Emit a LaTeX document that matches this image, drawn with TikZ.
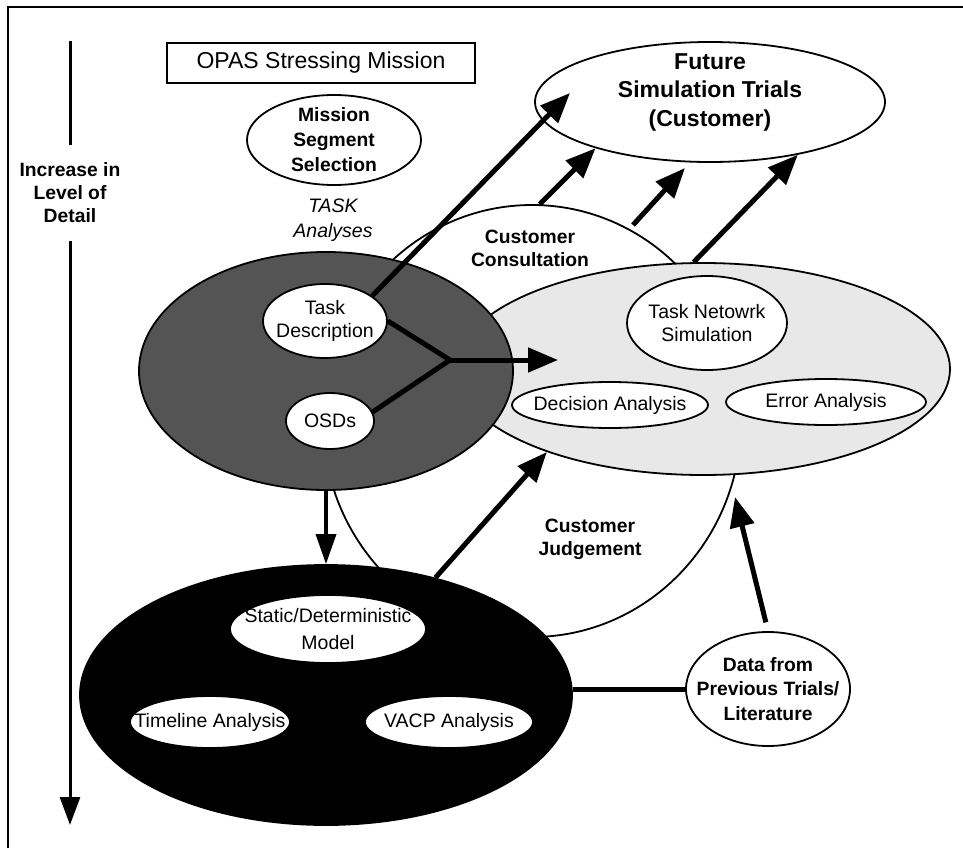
\documentclass[tikz,border=0pt]{standalone}
\usepackage{fontspec}
\setmainfont{Liberation Sans}
\usetikzlibrary{shapes.geometric}
\usetikzlibrary{arrows.meta}
\usetikzlibrary{calc}
\definecolor{task-grey}{gray}{0.33}
\definecolor{sim-grey}{gray}{0.91}

\begin{document}
\begin{tikzpicture}[x=1pt, y=-1pt,
  blob/.style={ellipse, draw=black, line width=1.8pt, fill=white, inner sep=-40pt,
    align=center, font=\fontsize{19.5}{23}\selectfont},
  bold-txt/.style={align=center, font=\fontsize{19.3}{23}\selectfont\bfseries},
  fat/.style={line width=5pt, -{Triangle[length=30pt,width=24pt]}}]
\useasboundingbox (0,0) rectangle (963,848);
\draw[line width=2pt] (8,848) -- (8,7) -- (963,7);

\node[blob, minimum width=418pt, minimum height=432pt] (cust) at (532,421) {};
\node[blob, fill=sim-grey, minimum width=494pt, minimum height=212pt] (sim) at (703,369) {};
\node[blob, fill=task-grey, minimum width=374pt, minimum height=238pt] (analyses) at (326,371) {};
\node[blob, fill=black, minimum width=492pt, minimum height=260pt] (model) at (326,695) {};

\node[blob, minimum width=124pt, minimum height=74pt] (taskdesc) at (325,321) {Task\\Description};
\node[blob, minimum width=88pt, minimum height=56pt] (osds) at (330,421) {OSDs};
\node[blob, minimum width=160pt, minimum height=94pt] (tasknet) at (707,323) {Task Netowrk\\Simulation};
\node[blob, minimum width=196pt, minimum height=46pt] (decision) at (610,405) {Decision Analysis};
\node[blob, minimum width=200pt, minimum height=46pt] (error) at (826,402) {Error Analysis};
\node[blob, minimum width=196pt, minimum height=68pt, font=\fontsize{19.5}{27}\selectfont] (static) at (328,629) {Static/Deterministic\\Model};
\node[blob, minimum width=160pt, minimum height=52pt] (timeline) at (210,722) {Timeline Analysis};
\node[blob, minimum width=168pt, minimum height=52pt] (vacp) at (449,722) {VACP Analysis};

\node[blob, bold-txt, minimum width=174pt, minimum height=90pt, font=\fontsize{19.3}{25}\selectfont\bfseries] (mission) at (334,140) {Mission\\Segment\\Selection};
\node[blob, minimum width=350pt, minimum height=120pt] (future) at (710,102) {};
\node[bold-txt, font=\fontsize{23}{28.5}\selectfont\bfseries] (futuretxt) at (710,92) {Future\\Simulation Trials\\(Customer)};
\node[blob, bold-txt, minimum width=164pt, minimum height=114pt, font=\fontsize{19.3}{24.5}\selectfont\bfseries] (data) at (768,689) {Data from\\Previous Trials/\\Literature};
\node[draw, line width=1.8pt, minimum width=308pt, minimum height=40pt, inner sep=0pt, font=\fontsize{23}{27}\selectfont] (opas) at (321,63) {OPAS Stressing Mission};

\node[bold-txt] (consult) at (530,248) {Customer\\Consultation};
\node[bold-txt] (judge) at (590,539) {Customer\\Judgement};
\node[align=center, font=\fontsize{19.5}{25}\selectfont\itshape] (taskan) at (333,220) {TASK\\Analyses};
\node[bold-txt, inner ysep=18pt] (lvl) at (70,193) {Increase in\\Level of\\Detail};

\coordinate (lvltop) at (70,41);
\coordinate (lvlend) at (70,825);
\coordinate (ft1) at (570,93);
\coordinate (ft3s) at (633,225);
\coordinate (ft3) at (685,168);
\coordinate (join) at (450,360);
\coordinate (simin) at (558,360);
\coordinate (judgein) at (735,497);

\draw[line width=3pt] (lvltop) -- (lvl.north);
\draw[line width=3pt, -{Triangle[length=28pt,width=20pt]}] (lvl.south) -- (lvlend);
\draw[fat] (taskdesc.28) -- (ft1);
\draw[fat] (cust.88) -- (future.202);
\draw[fat] (ft3s) -- (ft3);
\draw[fat] (sim.95) -- (future.329);
\draw[line width=5pt] (taskdesc.east) -- (join);
\draw[line width=5pt] (osds.12) -- (join);
\draw[fat] (join) -- (simin);
\draw[line width=3.5pt, -{Triangle[length=30pt,width=20pt]}] (analyses.south) -- (model.north);
\draw[fat] (model.47) -- (sim.208);
\draw[fat, shorten <=9pt] (data.north) -- (judgein);
\draw[line width=5pt] (model.east |- data.west) -- (data.west);
\end{tikzpicture}
\end{document}
